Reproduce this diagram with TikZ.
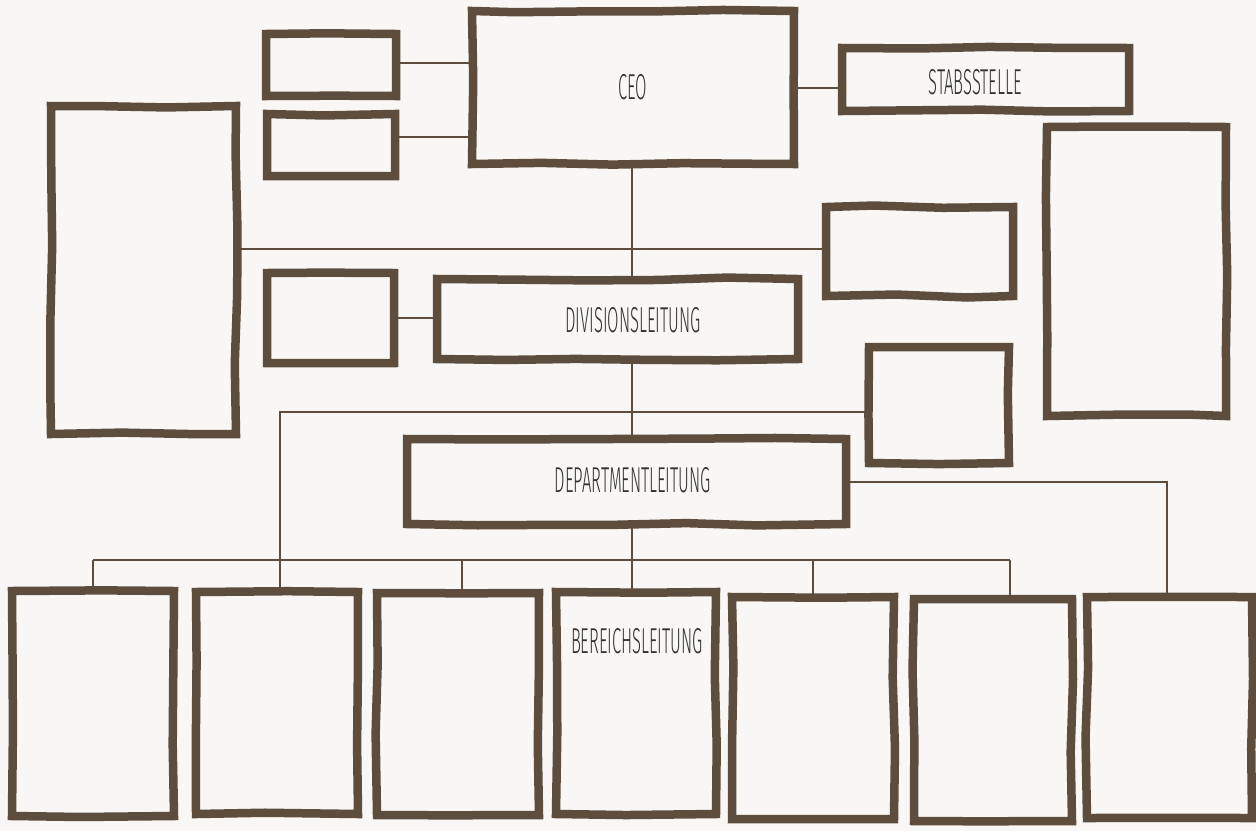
\documentclass[tikz,border=0pt]{standalone}
\usepackage{fontspec}
\usetikzlibrary{fit,decorations.pathmorphing}
\newfontfamily\handfont[FakeStretch=0.46]{Fira Sans Light}
\definecolor{marker}{RGB}{94,77,61}
\definecolor{paper}{RGB}{248,247,245}
\definecolor{ink}{RGB}{50,50,50}
\tikzset{
  orgbox/.style={draw=marker, line width=8.5pt, inner sep=0pt, outer sep=0pt,
    line join=miter, miter limit=2, decorate,
    decoration={random steps, segment length=70pt, amplitude=1.5pt}},
  link/.style={draw=marker, line width=2pt},
  lbl/.style={text=ink, font=\handfont\fontsize{36}{36}\selectfont, inner sep=0pt}
}
\begin{document}
\begin{tikzpicture}[x=1pt, y=-1pt]
  \pgfmathsetseed{7}
  \fill[paper] (0,0) rectangle (1256,831);
  \useasboundingbox (0,0) rectangle (1256,831);

  % boxes
  \node[orgbox, fit={(266,34) (396,96)}] (sA) {};
  \node[orgbox, fit={(267,114) (395,176)}] (sB) {};
  \node[orgbox, fit={(472,11) (794,164)}] (ceo) {};
  \node[orgbox, fit={(842,48) (1129,111)}] (stab) {};
  \node[orgbox, fit={(51,106) (236,434)}] (L) {};
  \node[orgbox, fit={(826,207) (1013,296)}] (midR) {};
  \node[orgbox, fit={(869,347) (1009,463)}] (sq) {};
  \node[orgbox, fit={(1047,127) (1226,416)}] (R) {};
  \node[orgbox, fit={(267,273) (394,363)}] (sC) {};
  \node[orgbox, fit={(437,279) (798,359)}] (div) {};
  \node[orgbox, fit={(407,439) (846,524)}] (dep) {};
  \node[orgbox, fit={(12,591) (174,816)}] (b1) {};
  \node[orgbox, fit={(196,592) (358,814)}] (b2) {};
  \node[orgbox, fit={(377,593) (539,815)}] (b3) {};
  \node[orgbox, fit={(556,592) (716,814)}] (b4) {};
  \node[orgbox, fit={(732,597) (894,819)}] (b5) {};
  \node[orgbox, fit={(914,599) (1072,821)}] (b6) {};
  \node[orgbox, fit={(1087,597) (1252,818)}] (b7) {};

  % helper coordinates for the connector lines
  \coordinate (spine) at (632,0);
  \coordinate (hz) at (0,249);
  \coordinate (kink) at (280,412);
  \coordinate (bus) at (0,560);
  \coordinate (d3) at ([xshift=4pt]b3.north);
  \coordinate (d6) at ([xshift=17pt]b6.north);
  \coordinate (d7) at ([xshift=-3pt]b7.north);

  % connectors
  \draw[link] ([yshift=2pt]sA.east) -- ([yshift=2pt]sA.east -| ceo.west);
  \draw[link] ([yshift=8pt]sB.east) -- ([yshift=8pt]sB.east -| ceo.west);
  \draw[link] (ceo.east) -- (ceo.east -| stab.west);
  \draw[link] (spine |- ceo.south) -- (spine |- div.north);
  \draw[link] (L.east |- hz) -- (midR.west |- hz);
  \draw[link] (sC.east) -- (sC.east -| div.west);
  \draw[link] (spine |- div.south) -- (spine |- dep.north);
  \draw[link] (sq.west |- kink) -- (kink) -- (kink |- b2.north);
  \draw[link] (dep.east) -| (d7);
  \draw[link] (spine |- dep.south) -- (spine |- b4.north);
  \draw[link] (b1.north |- bus) -- (d6 |- bus);
  \draw[link] (b1.north |- bus) -- (b1.north);
  \draw[link] (d3 |- bus) -- (d3);
  \draw[link] (b5.north |- bus) -- (b5.north);
  \draw[link] (d6 |- bus) -- (d6);

  % labels
  \node[lbl] (tceo) at (633,87) {CEO};
  \node[lbl] (tstab) at (975,82) {STABSSTELLE};
  \node[lbl] (tdiv) at (633,320) {DIVISIONSLEITUNG};
  \node[lbl] (tdep) at (633,480) {DEPARTMENTLEITUNG};
  \node[lbl] (tber) at (637,641) {BEREICHSLEITUNG};
\end{tikzpicture}
\end{document}
